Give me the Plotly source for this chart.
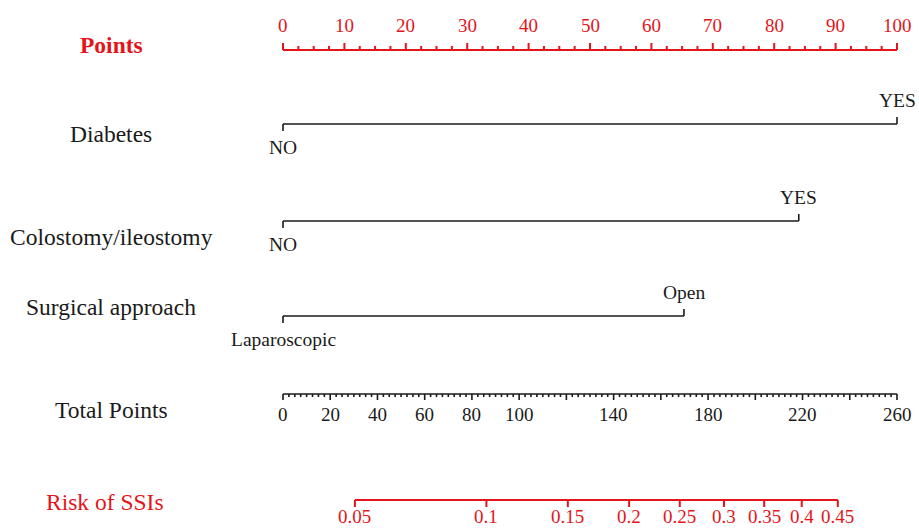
import numpy as np
import plotly.graph_objects as go

# ---------------- data ----------------
points_ticks = [0, 10, 20, 30, 40, 50, 60, 70, 80, 90, 100]
points_minor_step = 2.5

variables = ["Diabetes", "Colostomy/ileostomy", "Surgical approach"]
var_levels = [["NO", "YES"], ["NO", "YES"], ["Laparoscopic", "Open"]]
var_points = [[0, 100], [0, 84.0], [0, 65.3]]

total_ticks = [0, 20, 40, 60, 80, 100, 140, 180, 220, 260]
total_major_step = 20
total_minor_step = 2.5
total_max = 260

risk_ticks = [0.05, 0.1, 0.15, 0.2, 0.25, 0.3, 0.35, 0.4, 0.45]
risk_tick_labels = ["0.05", "0.1", "0.15", "0.2", "0.25", "0.3", "0.35", "0.4", "0.45"]
lp_intercept = -3.353
lp_slope = 0.013418

# ---------------- style / layout ----------------
RED = "#E3151B"
BLACK = "#1a1a1a"
FONT = "Liberation Serif"
W, H = 919, 528
X0_PX, X100_PX = 283, 897
ppu = (X100_PX - X0_PX) / 100.0
xr = [-X0_PX / ppu, (W - X0_PX) / ppu]

LBL = 23.5
NUM = 19
CAT = 19.5

row_y = {"points": 50, "Diabetes": 124, "Colostomy/ileostomy": 221, "Surgical approach": 316,
         "total": 394, "risk": 500}
label_y = {"points": 45, "Diabetes": 134, "Colostomy/ileostomy": 237, "Surgical approach": 307,
           "total": 410, "risk": 502}
label_x_px = 111

def px2x(px):
    return (px - X0_PX) / ppu

def tot2x(t):
    return t * 100.0 / total_max

def risk2x(p):
    lp = np.log(p / (1 - p))
    return tot2x((lp - lp_intercept) / lp_slope)

fig = go.Figure()
ann = []

def add_segs(segs, color, width):
    xs, ys = [], []
    for (x1, y1, x2, y2) in segs:
        xs += [x1, x2, None]
        ys += [y1, y2, None]
    fig.add_trace(go.Scatter(x=xs, y=ys, mode="lines", line=dict(color=color, width=width),
                             hoverinfo="skip", showlegend=False))

def text(x, y, s, color=BLACK, size=18, bold=False, xanchor="center"):
    ann.append(dict(x=x, y=y, xref="x", yref="y", text=("<b>%s</b>" % s) if bold else s,
                    showarrow=False, xanchor=xanchor, yanchor="middle",
                    font=dict(family=FONT, size=size, color=color)))

# Points axis
y = row_y["points"]
segs = [(0, y, 100, y)]
for v in np.arange(0, 100 + 1e-9, points_minor_step):
    major = abs(v / 10 - round(v / 10)) < 1e-9
    segs.append((v, y, v, y - (7 if major else 4)))
add_segs(segs, RED, 2)
for v in points_ticks:
    text(v, 25, str(v), color=RED, size=NUM)
text(px2x(label_x_px), label_y["points"], "Points", color=RED, size=LBL, bold=True)

# Variable rows
for name, levels, pts in zip(variables, var_levels, var_points):
    y = row_y[name]
    lo, hi = pts
    add_segs([(lo, y, hi, y), (lo, y, lo, y + 7), (hi, y, hi, y - 7)], BLACK, 1.6)
    text(lo, y + 23, levels[0], size=CAT)
    text(hi, y - 24, levels[1], size=CAT)
    text(px2x(label_x_px), label_y[name], name, size=LBL)

# Total points axis
y = row_y["total"]
segs = [(0, y, tot2x(total_max), y)]
for v in np.arange(0, total_max + 1e-9, total_minor_step):
    major = abs(v / total_major_step - round(v / total_major_step)) < 1e-9
    segs.append((tot2x(v), y, tot2x(v), y + (6 if major else 3)))
add_segs(segs, BLACK, 1.6)
for v in total_ticks:
    text(tot2x(v), 414, str(v), size=NUM)
text(px2x(label_x_px), label_y["total"], "Total Points", size=LBL)

# Risk axis
y = row_y["risk"]
rx = [risk2x(p) for p in risk_ticks]
segs = [(rx[0], y, rx[-1], y)] + [(v, y, v, y + 7) for v in rx]
add_segs(segs, RED, 2)
for v, lab in zip(rx, risk_tick_labels):
    text(v, 516, lab, color=RED, size=NUM)
text(px2x(105), label_y["risk"], "Risk of SSIs", color=RED, size=LBL)

fig.update_layout(
    width=W, height=H, margin=dict(l=0, r=0, t=0, b=0),
    paper_bgcolor="white", plot_bgcolor="white",
    xaxis=dict(range=xr, visible=False, fixedrange=True),
    yaxis=dict(range=[H, 0], visible=False, fixedrange=True),
    annotations=ann, showlegend=False, hovermode=False,
)
fig.write_html(
    "out.html",
    config={"displayModeBar": False, "staticPlot": True},
    post_script="document.body.style.margin='0';document.body.style.overflow='hidden';",
)
